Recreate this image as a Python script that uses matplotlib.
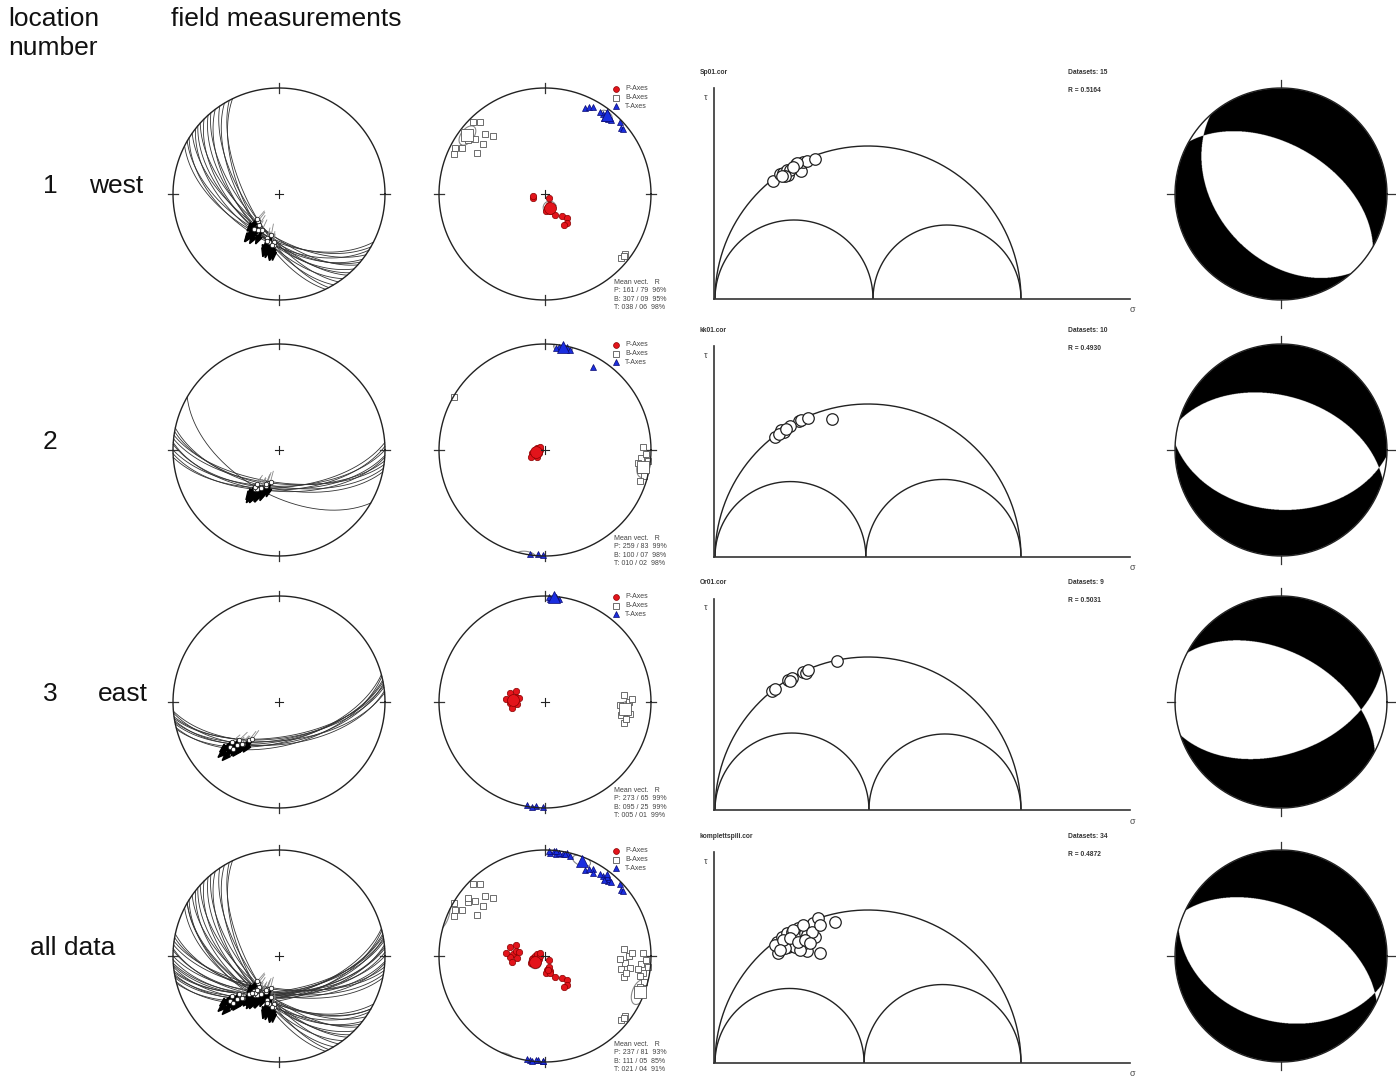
import numpy as np
import matplotlib.pyplot as plt
from matplotlib.patches import Circle

W, H = 1396, 1076
plt.rcParams['font.family'] = ['Liberation Sans', 'DejaVu Sans']

# site labels and stress ratio from the .cor files
files = ["Sp01.cor", "kk01.cor", "Or01.cor", "komplettspili.cor"]
loc_nums = ["1", "2", "3", ""]
loc_names = ["west", "", "east", "all data"]
ratio_R = [0.5164, 0.4930, 0.5031, 0.4872]

# fault planes: dip direction, dip, rake of striae (deg)
sp_dipdir = [207, 210, 212, 215, 218, 220, 222, 225, 228, 230, 233, 236, 239, 242, 244]
sp_dip = [55, 57, 53, 60, 55, 58, 62, 57, 60, 63, 59, 65, 62, 66, 63]
sp_rake = [83, 93, 75, 85, 70, 85, 74, 85, 66, 82, 66, 82, 60, 81, 62]

kk_dipdir = [180, 183, 186, 178, 190, 184, 188, 176, 210, 192]
kk_dip = [62, 60, 64, 59, 62, 58, 65, 61, 56, 60]
kk_rake = [100, 102, 96, 109, 95, 104, 93, 105, 92, 101]

or_dipdir = [168, 170, 172, 165, 174, 169, 171, 166, 175]
or_dip = [60, 58, 62, 59, 57, 61, 63, 56, 60]
or_rake = [123, 127, 116, 135, 121, 131, 114, 132, 122]

# P / B / T axes (trend, plunge)
sp_P_tr = [165, 160, 170, 158, 175, 163, 253, 260, 135, 155, 142, 137, 142, 148, 168]
sp_P_pl = [80, 78, 79, 81, 77, 76, 80, 81, 86, 72, 69, 65, 62, 62, 79]
sp_B_tr = [315, 318, 305, 308, 315, 318, 309, 299, 297, 294, 301, 127, 130, 128, 307]
sp_B_pl = [5, 9, 12, 17, 21, 27, 26, 11, 5, 7, 26, 6, 7, 6, 10]
sp_T_tr = [25, 27, 29, 36, 38, 40, 40, 38, 46, 49, 50, 34, 37, 42, 38]
sp_T_pl = [12, 9, 7, 7, 9, 8, 6, 6, 2, 5, 5, 8, 4, 7, 10]

kk_P_tr = [259, 250, 270, 240, 285, 255, 265, 230, 300, 245]
kk_P_pl = [83, 84, 82, 85, 84, 80, 86, 82, 86, 78]
kk_B_tr = [100, 95, 92, 98, 105, 88, 102, 96, 108, 300]
kk_B_pl = [7, 10, 5, 12, 4, 8, 9, 3, 6, 1]
kk_T_tr = [8, 10, 12, 6, 11, 14, 30, 188, 184, 181]
kk_T_pl = [2, 3, 1, 4, 2, 3, 11, 1, 2, 1]

or_P_tr = [273, 268, 280, 265, 285, 275, 260, 278, 290]
or_P_pl = [65, 63, 67, 68, 62, 60, 64, 70, 66]
or_B_tr = [95, 90, 100, 85, 98, 92, 105, 88, 102]
or_B_pl = [25, 22, 28, 26, 20, 30, 24, 19, 23]
or_T_tr = [5, 3, 8, 190, 185, 181, 6, 2, 187]
or_T_pl = [1, 3, 2, 1, 2, 1, 0, 1, 0]

# mean vectors (trend, plunge, R %)
mean_P = [(161, 79, 96), (259, 83, 99), (273, 65, 99), (237, 81, 93)]
mean_B = [(307, 9, 95), (100, 7, 98), (95, 25, 99), (111, 5, 85)]
mean_T = [(38, 6, 98), (10, 2, 98), (5, 1, 99), (21, 4, 91)]

# Mohr diagram points (normalised sigma, tau)
sp_sig = [0.190, 0.212, 0.222, 0.239, 0.235, 0.265, 0.281, 0.288, 0.301, 0.327, 0.245, 0.268, 0.229, 0.219, 0.255]
sp_tau = [0.386, 0.408, 0.412, 0.405, 0.422, 0.441, 0.418, 0.448, 0.451, 0.458, 0.422, 0.444, 0.402, 0.402, 0.431]
kk_sig = [0.196, 0.216, 0.225, 0.275, 0.281, 0.304, 0.382, 0.209, 0.245, 0.232]
kk_tau = [0.392, 0.415, 0.408, 0.444, 0.448, 0.454, 0.451, 0.402, 0.428, 0.418]
or_sig = [0.186, 0.196, 0.239, 0.252, 0.288, 0.297, 0.304, 0.399, 0.245]
or_tau = [0.389, 0.395, 0.425, 0.431, 0.451, 0.448, 0.458, 0.487, 0.422]
all_sig = [0.392, 0.343, 0.301, 0.206, 0.212, 0.203, 0.219, 0.235, 0.252, 0.271, 0.268, 0.252,
           0.239, 0.261, 0.284, 0.294, 0.304, 0.320, 0.337, 0.327, 0.301, 0.278, 0.229, 0.196,
           0.222, 0.255, 0.288, 0.317, 0.245, 0.271, 0.343, 0.212, 0.294, 0.310]
all_tau = [0.461, 0.359, 0.366, 0.359, 0.379, 0.395, 0.412, 0.425, 0.428, 0.441, 0.412, 0.395,
           0.379, 0.379, 0.386, 0.425, 0.444, 0.458, 0.474, 0.412, 0.418, 0.369, 0.376, 0.386,
           0.402, 0.435, 0.451, 0.428, 0.408, 0.395, 0.451, 0.369, 0.402, 0.392]

faults = [(sp_dipdir, sp_dip, sp_rake), (kk_dipdir, kk_dip, kk_rake), (or_dipdir, or_dip, or_rake)]
faults.append(tuple(sum((list(f[i]) for f in faults), []) for i in range(3)))
axes_P = [(sp_P_tr, sp_P_pl), (kk_P_tr, kk_P_pl), (or_P_tr, or_P_pl)]
axes_B = [(sp_B_tr, sp_B_pl), (kk_B_tr, kk_B_pl), (or_B_tr, or_B_pl)]
axes_T = [(sp_T_tr, sp_T_pl), (kk_T_tr, kk_T_pl), (or_T_tr, or_T_pl)]
for lst in (axes_P, axes_B, axes_T):
    lst.append((sum((a[0] for a in lst), []), sum((a[1] for a in lst), [])))
mohr = [(sp_sig, sp_tau), (kk_sig, kk_tau), (or_sig, or_tau), (all_sig, all_tau)]

row_y = [194, 450, 702, 956]
mohr_base = [299, 557, 810, 1063]
RAD = 106


def line_vec(trend, plunge):
    t, p = np.radians(trend), np.radians(plunge)
    return np.array([np.cos(p) * np.cos(t), np.cos(p) * np.sin(t), np.sin(p)])


def project(v):
    # lower hemisphere equal-area (Schmidt), v = (N, E, Down)
    v = np.array(v, float)
    v = np.where(v[2] < 0, -v, v)
    s = np.sqrt(1 + v[2])
    return v[1] / s, v[0] / s


def plane_vecs(dd, dip):
    s, d, dp = np.radians(dd - 90), np.radians(dd), np.radians(dip)
    S = np.array([np.cos(s), np.sin(s), 0.0])
    Dv = np.array([np.cos(dp) * np.cos(d), np.cos(dp) * np.sin(d), np.sin(dp)])
    return S, Dv


def ftext(x, y, s, **kw):
    fig.text(x / W, 1 - y / H, s, **kw)


def net_axes(cx, cy, ticks='cross'):
    half = 1.15 * RAD
    ax = fig.add_axes([(cx - half) / W, (H - cy - half) / H, 2 * half / W, 2 * half / H])
    ax.set_xlim(-1.15, 1.15)
    ax.set_ylim(-1.15, 1.15)
    ax.set_aspect('equal')
    ax.axis('off')
    t = np.linspace(0, 2 * np.pi, 400)
    ax.plot(np.cos(t), np.sin(t), color='#222', lw=1.0, zorder=5)
    r0, r1 = (0.95, 1.05) if ticks == 'cross' else (1.0, 1.08)
    for a in np.radians([0, 90, 180, 270]):
        ax.plot([r0 * np.sin(a), r1 * np.sin(a)], [r0 * np.cos(a), r1 * np.cos(a)], color='#333', lw=0.9)
    return ax


def center_cross(ax):
    ax.plot([-0.04, 0.04], [0, 0], color='#222', lw=0.8, zorder=6)
    ax.plot([0, 0], [-0.04, 0.04], color='#222', lw=0.8, zorder=6)


def cone(ax, tr, pl, data):
    m = line_vec(tr, pl)
    vs = np.array([line_vec(a, b) for a, b in zip(*data)])
    vs = vs * np.sign(vs @ m)[:, None]
    n = len(vs)
    rl = np.linalg.norm(vs.sum(axis=0))
    a95 = np.arccos(np.clip(1 - (n - rl) / rl * (20 ** (1 / (n - 1)) - 1), -1, 1))
    u = np.cross(m, [0, 0, 1.0]) if abs(m[2]) < 0.99 else np.array([1.0, 0, 0])
    u /= np.linalg.norm(u)
    w = np.cross(m, u)
    ph = np.linspace(0, 2 * np.pi, 200)
    pts = np.cos(a95) * m[:, None] + np.sin(a95) * (np.outer(u, np.cos(ph)) + np.outer(w, np.sin(ph)))
    x, y = project(pts)
    jump = np.hypot(np.diff(x), np.diff(y)) > 0.3
    x, y = x.astype(float), y.astype(float)
    x = np.insert(x, np.where(jump)[0] + 1, np.nan)
    y = np.insert(y, np.where(jump)[0] + 1, np.nan)
    ax.plot(x, y, color='#888', lw=0.8, zorder=3)


fig = plt.figure(figsize=(W / 100, H / 100), dpi=100)

ftext(8, 7, "location\nnumber", fontsize=19, va='top', ha='left', linespacing=1.25, color='#111')
ftext(171, 7, "field measurements", fontsize=19, va='top', ha='left', color='#111')
for i, cy in enumerate(row_y):
    if loc_nums[i]:
        ftext(50, cy - 8, loc_nums[i], fontsize=19, ha='center', va='center', color='#111')
    if loc_names[i]:
        lx = {0: 89, 2: 98, 3: 30}[i]
        ftext(lx, cy - 8, loc_names[i], fontsize=19, ha='left', va='center', color='#111')

for i, cy in enumerate(row_y):
    # ---- column 1: fault planes and striae
    ax = net_axes(279, cy)
    center_cross(ax)
    dd_l, dip_l, rk_l = faults[i]
    t = np.linspace(0, np.pi, 200)
    for dd, dp, rk in zip(dd_l, dip_l, rk_l):
        S, Dv = plane_vecs(dd, dp)
        gx, gy = project(np.outer(S, np.cos(t)) + np.outer(Dv, np.sin(t)))
        ax.plot(gx, gy, color='#333', lw=0.6, zorder=2)
    for dd, dp, rk in zip(dd_l, dip_l, rk_l):
        S, Dv = plane_vecs(dd, dp)
        lam = np.radians(rk)
        L = np.cos(lam) * S + np.sin(lam) * Dv
        lx, ly = project(L)
        d = np.array([lx, ly]) / np.hypot(lx, ly)
        ax.plot([lx, lx - 0.1 * d[0]], [ly, ly - 0.1 * d[1]], color='#888', lw=0.6, zorder=3)
        ax.arrow(lx, ly, 0.15 * d[0], 0.15 * d[1], width=0.014, head_width=0.06, head_length=0.08,
                 length_includes_head=True, color='k', zorder=4)
        ax.plot(lx, ly, 'o', ms=3.2, mfc='white', mec='#222', mew=0.6, zorder=5)

    # ---- column 2: P, B, T axes
    ax = net_axes(545, cy)
    center_cross(ax)
    styles = {
        'P': dict(marker='o', mfc='#e3141b', mec='#8a0000', ms=4.6, mew=0.5),
        'B': dict(marker='s', mfc='white', mec='#555', ms=4.6, mew=0.6),
        'T': dict(marker='^', mfc='#1a2ee0', mec='#0a0a70', ms=5.0, mew=0.5),
    }
    for key, data, mean in (('B', axes_B[i], mean_B[i]), ('T', axes_T[i], mean_T[i]), ('P', axes_P[i], mean_P[i])):
        x, y = project(np.array([line_vec(a, b) for a, b in zip(*data)]).T)
        ax.plot(x, y, ls='none', zorder=4, **styles[key])
        cone(ax, mean[0], mean[1], data)
        mx, my = project(line_vec(mean[0], mean[1]))
        big = dict(styles[key])
        big['ms'] = 8.5
        ax.plot(mx, my, ls='none', zorder=5, **big)
    for k, (key, lab) in enumerate((('P', 'P-Axes'), ('B', 'B-Axes'), ('T', 'T-Axes'))):
        yy = cy - 105 + 8.6 * k
        st = dict(styles[key])
        st['ms'] = 4.2
        fig.lines.append(plt.Line2D([616 / W], [1 - yy / H], transform=fig.transFigure, **st))
        ftext(625, yy, lab, fontsize=5, va='center', ha='left', color='#444')
    lines = ["Mean vect.   R"]
    for key, m in (('P', mean_P[i]), ('B', mean_B[i]), ('T', mean_T[i])):
        lines.append(f"{key}: {m[0]:03d} / {m[1]:02d}  {m[2]}%")
    for k, s in enumerate(lines):
        ftext(614, cy + 88 + 8.6 * k, s, fontsize=5, va='center', ha='left', color='#444')

    # ---- column 3: Mohr circles
    base = mohr_base[i]
    ax = fig.add_axes([714 / W, (H - base) / H, 416 / W, 211 / H])
    ax.set_xlim(-1 / 306, 415 / 306)
    ax.set_ylim(0, 211 / 306)
    for sp in ('top', 'right'):
        ax.spines[sp].set_visible(False)
    for sp in ('left', 'bottom'):
        ax.spines[sp].set_color('#333')
        ax.spines[sp].set_linewidth(1.2)
    ax.set_xticks([])
    ax.set_yticks([])
    ax.patch.set_alpha(0)
    R = ratio_R[i]
    ph = np.linspace(0, np.pi, 300)
    for c, r in ((0.5, 0.5), (R / 2, R / 2), ((1 + R) / 2, (1 - R) / 2)):
        ax.plot(c + r * np.cos(ph), r * np.sin(ph), color='#222', lw=1.0)
    ax.plot(mohr[i][0], mohr[i][1], 'o', ms=8.3, mfc='white', mec='#222', mew=0.9, clip_on=False)
    ftext(700, base - 227, files[i], fontsize=4.8, weight='bold', va='center', color='#333')
    ftext(1068, base - 227, f"Datasets: {len(faults[i][0])}", fontsize=4.8, weight='bold', va='center', color='#333')
    ftext(1068, base - 209, f"R = {R:.4f}", fontsize=4.8, weight='bold', va='center', color='#333')
    ftext(706, base - 202, "τ", fontsize=6.5, va='center', ha='center', color='#444')
    ftext(1132, base + 11, "σ", fontsize=6.5, va='center', ha='center', color='#444')

    # ---- column 4: beachball from mean P and T
    ax = net_axes(1281, cy, ticks='out')
    P = line_vec(mean_P[i][0], mean_P[i][1])
    T = line_vec(mean_T[i][0], mean_T[i][1])
    T = T - (T @ P) * P
    T /= np.linalg.norm(T)
    g = np.linspace(-1, 1, 700)
    X, Y = np.meshgrid(g, g)
    r2 = X ** 2 + Y ** 2
    D = 1 - r2
    s = np.sqrt(np.clip(1 + D, 0, None))
    N, E = Y * s, X * s
    f = (N * T[0] + E * T[1] + D * T[2]) ** 2 - (N * P[0] + E * P[1] + D * P[2]) ** 2
    img = np.where(f > 0, 1.0, 0.0)
    img[r2 > 1.0] = np.nan
    im = ax.imshow(img, extent=(-1, 1, -1, 1), origin='lower', cmap='gray_r', vmin=0, vmax=1,
                   interpolation='antialiased', zorder=1)
    im.set_clip_path(Circle((0, 0), 1, transform=ax.transData))
    ax.set_xlim(-1.15, 1.15)
    ax.set_ylim(-1.15, 1.15)

fig.savefig("out.png", dpi=100, facecolor='white')
